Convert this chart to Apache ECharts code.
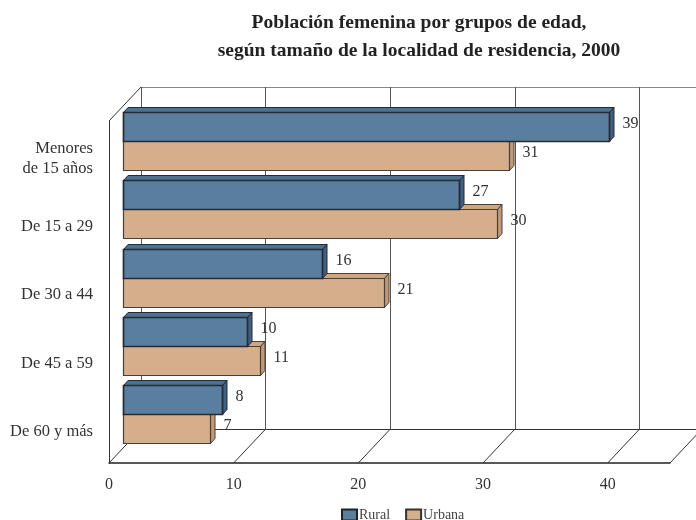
<!DOCTYPE html>
<html>
<head>
<meta charset="utf-8">
<style>
  html, body { margin: 0; padding: 0; background: #fff; }
  #chart { width: 696px; height: 520px; }
</style>
<script src="https://cdn.jsdelivr.net/npm/echarts@6/dist/echarts.min.js"></script>
</head>
<body>
<div id="chart"></div>
<script>
const categories = ['Menores\nde 15 años', 'De 15 a 29', 'De 30 a 44', 'De 45 a 59', 'De 60 y más'];
const rural = [39, 27, 16, 10, 8];
const urbana = [31, 30, 21, 11, 7];
const tickLabels = [0, 10, 20, 30, 40];
const floorTicks = [0, 10, 20, 30, 40, 45];

const FONT = '"Liberation Serif", serif';
// profundidad del piso / pared y de las barras
const WALL_DX = 32, WALL_DY = -34;
const BAR_DX = 13.5, BAR_DY = -14.5;
const SIDE_DX = 4.5, SIDE_DY = -5;
const BAR_H = 29;

const myChart = echarts.init(document.getElementById('chart'));

function renderFrame(params, api) {
  const v = api.value(0);
  const cs = params.coordSys;
  const x = api.coord([v, 0])[0];
  const bottom = cs.y + cs.height;
  const children = [{
    type: 'line',
    shape: { x1: x, y1: bottom, x2: x + WALL_DX, y2: bottom + WALL_DY },
    style: { stroke: '#333', lineWidth: 1 }
  }];
  if (v === 0) {
    children.push({
      type: 'line',
      shape: { x1: x, y1: cs.y, x2: x + WALL_DX, y2: cs.y + WALL_DY },
      style: { stroke: '#333', lineWidth: 1 }
    });
  }
  return { type: 'group', children };
}

function barRenderer(faces, lift) {
  return function (params, api) {
    const val = api.value(0);
    const c = api.coord([0, api.value(1)]);
    const xa = Math.round(c[0] + BAR_DX) + 0.5;
    const xb = Math.round(api.coord([val, 0])[0] + BAR_DX) + 0.5;
    const yBase = c[1] + BAR_DY;
    const y0 = Math.round(lift ? yBase - BAR_H : yBase) + 0.5;
    const y1 = y0 + BAR_H;
    const stroke = { stroke: faces.line, lineWidth: faces.width };
    return {
      type: 'group',
      children: [
        {
          type: 'polygon',
          shape: { points: [[xa, y0], [xa + SIDE_DX, y0 + SIDE_DY], [xb + SIDE_DX, y0 + SIDE_DY], [xb, y0]] },
          style: Object.assign({ fill: faces.top }, stroke, { lineWidth: 1 })
        },
        {
          type: 'polygon',
          shape: { points: [[xb, y0], [xb + SIDE_DX, y0 + SIDE_DY], [xb + SIDE_DX, y1 + SIDE_DY], [xb, y1]] },
          style: Object.assign({ fill: faces.side }, stroke, { lineWidth: 1 })
        },
        {
          type: 'rect',
          shape: { x: xa, y: y0, width: xb - xa, height: BAR_H },
          style: Object.assign({ fill: faces.front }, stroke)
        },
        {
          type: 'text',
          style: {
            text: String(val),
            x: xb + 13,
            y: (y0 + y1) / 2 - 3,
            fill: '#333',
            font: '16px ' + FONT,
            textAlign: 'left',
            textVerticalAlign: 'middle'
          }
        }
      ]
    };
  };
}

const blue = { front: '#5a7e9e', top: '#4c7293', side: '#3f6080', line: '#262a33', width: 1.7 };
const tan = { front: '#d5ae8c', top: '#cfa682', side: '#c09a79', line: '#47403a', width: 1.2 };

const option = {
  animation: false,
  backgroundColor: '#fff',
  title: {
    text: 'Población femenina por grupos de edad,\nsegún tamaño de la localidad de residencia, 2000',
    left: 414,
    top: 4,
    textAlign: 'center',
    textStyle: { fontFamily: FONT, fontWeight: 'bold', fontSize: 19.5, lineHeight: 28, color: '#222' }
  },
  legend: {
    data: ['Rural', 'Urbana'],
    left: 341,
    top: 508,
    padding: 0,
    icon: 'rect',
    itemWidth: 15,
    itemHeight: 11,
    itemGap: 15,
    selectedMode: false,
    textStyle: { fontFamily: FONT, fontSize: 14, color: '#444', padding: [0, 0, 0, -3] }
  },
  grid: [
    { left: 109, top: 121, width: 561, height: 342, outerBoundsMode: 'none' },
    { left: 141, top: 87, width: 561, height: 342, outerBoundsMode: 'none' },
    // solo para las etiquetas de categoría, un poco más abajo que las barras
    { left: 109, top: 124, width: 561, height: 342, outerBoundsMode: 'none' }
  ],
  xAxis: [
    {
      type: 'value', gridIndex: 0, min: 0, max: 45, interval: 10,
      axisLine: { show: true, onZero: false, lineStyle: { color: '#222', width: 1.5 } },
      axisTick: { show: false },
      splitLine: { show: false },
      axisLabel: { customValues: tickLabels, margin: 14, fontFamily: FONT, fontSize: 16, color: '#333' }
    },
    {
      type: 'value', gridIndex: 1, min: 0, max: 45, interval: 10,
      axisLine: { show: false }, axisTick: { show: false }, axisLabel: { show: false },
      splitLine: { show: true, lineStyle: { color: '#555', width: 1 } }
    },
    { type: 'value', gridIndex: 2, min: 0, max: 45, show: false }
  ],
  yAxis: [
    {
      type: 'category', gridIndex: 0, data: categories, inverse: true,
      axisLine: { show: true, onZero: false, lineStyle: { color: '#333', width: 1 } },
      axisTick: { show: false },
      axisLabel: { show: false }
    },
    {
      type: 'value', gridIndex: 1, min: 0, max: 1, interval: 1,
      axisLine: { show: false }, axisTick: { show: false }, axisLabel: { show: false },
      splitLine: { show: true, lineStyle: { color: ['#333', '#888'], width: 1 } }
    },
    {
      type: 'category', gridIndex: 2, data: categories, inverse: true,
      axisLine: { show: false }, axisTick: { show: false },
      axisLabel: { margin: 16, fontFamily: FONT, fontSize: 16.5, lineHeight: 20, color: '#333', align: 'right' }
    }
  ],
  series: [
    {
      type: 'custom', name: 'frame', xAxisIndex: 0, yAxisIndex: 0, z: 1, silent: true,
      data: floorTicks.map(v => [v]),
      encode: { x: 0 },
      renderItem: renderFrame
    },
    {
      type: 'custom', name: 'Urbana', xAxisIndex: 0, yAxisIndex: 0, z: 2, silent: true,
      itemStyle: { color: tan.front, borderColor: '#333', borderWidth: 1 },
      data: urbana.map((v, i) => [v, i]),
      encode: { x: 0, y: 1 },
      renderItem: barRenderer(tan, false)
    },
    {
      type: 'custom', name: 'Rural', xAxisIndex: 0, yAxisIndex: 0, z: 3, silent: true,
      itemStyle: { color: blue.front, borderColor: '#222', borderWidth: 1 },
      data: rural.map((v, i) => [v, i]),
      encode: { x: 0, y: 1 },
      renderItem: barRenderer(blue, true)
    }
  ]
};

myChart.setOption(option);
</script>
</body>
</html>
